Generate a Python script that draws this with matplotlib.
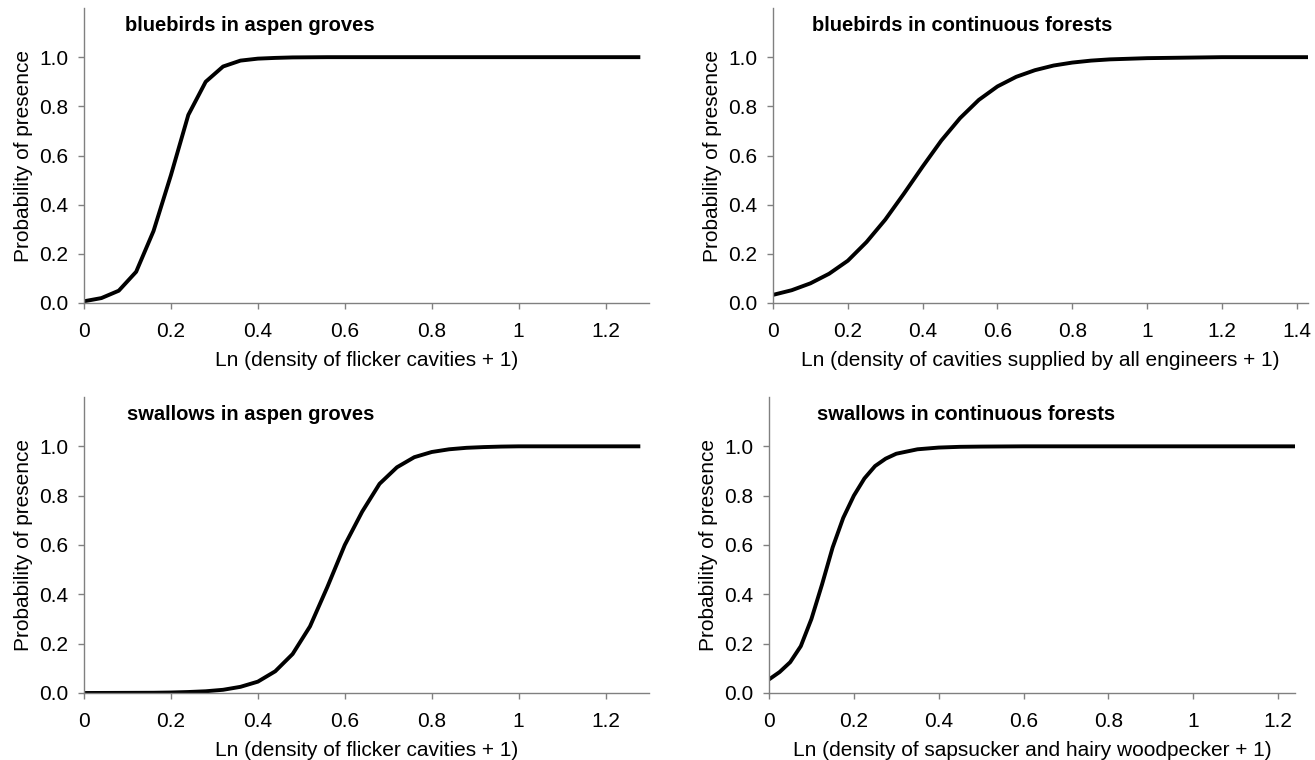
#!/usr/bin/env python3
import matplotlib
matplotlib.use('Agg')
import matplotlib.pyplot as plt

plt.rcParams['font.family'] = ['Liberation Sans', 'DejaVu Sans']

# bluebirds in aspen groves (flicker cavities)
blue_aspen_x = [0.0, 0.04, 0.08, 0.12, 0.16, 0.20, 0.24, 0.28, 0.32, 0.36,
                0.40, 0.44, 0.48, 0.52, 0.56, 1.28]
blue_aspen_y = [0.007, 0.02, 0.05, 0.127, 0.293, 0.52, 0.765, 0.90, 0.962, 0.986,
                0.994, 0.997, 0.999, 0.9995, 1.0, 1.0]

# bluebirds in continuous forests (all engineers)
blue_forest_x = [0.0, 0.05, 0.10, 0.15, 0.20, 0.25, 0.30, 0.35, 0.40, 0.45,
                 0.50, 0.55, 0.60, 0.65, 0.70, 0.75, 0.80, 0.85, 0.90, 1.00,
                 1.10, 1.20, 1.43]
blue_forest_y = [0.033, 0.052, 0.08, 0.119, 0.172, 0.248, 0.339, 0.445, 0.555, 0.661,
                 0.752, 0.826, 0.881, 0.92, 0.947, 0.966, 0.978, 0.986, 0.991, 0.996,
                 0.998, 1.0, 1.0]

# swallows in aspen groves (flicker cavities)
swal_aspen_x = [0.0, 0.16, 0.20, 0.24, 0.28, 0.32, 0.36, 0.40, 0.44, 0.48,
                0.52, 0.56, 0.60, 0.64, 0.68, 0.72, 0.76, 0.80, 0.84, 0.88,
                0.92, 0.96, 1.00, 1.28]
swal_aspen_y = [0.0, 0.001, 0.002, 0.004, 0.007, 0.013, 0.025, 0.046, 0.088, 0.158,
                0.27, 0.43, 0.60, 0.735, 0.848, 0.915, 0.956, 0.977, 0.988, 0.994,
                0.997, 0.999, 1.0, 1.0]

# swallows in continuous forests (sapsucker and hairy woodpecker)
swal_forest_x = [0.0, 0.025, 0.05, 0.075, 0.10, 0.125, 0.15, 0.175, 0.20, 0.225,
                 0.25, 0.275, 0.30, 0.35, 0.40, 0.45, 0.50, 0.60, 1.24]
swal_forest_y = [0.055, 0.085, 0.125, 0.19, 0.30, 0.44, 0.59, 0.71, 0.80, 0.87,
                 0.92, 0.95, 0.97, 0.988, 0.995, 0.998, 0.999, 1.0, 1.0]

titles = ['bluebirds in aspen groves', 'bluebirds in continuous forests',
          'swallows in aspen groves', 'swallows in continuous forests']
xlabels = ['Ln (density of flicker cavities + 1)',
           'Ln (density of cavities supplied by all engineers + 1)',
           'Ln (density of flicker cavities + 1)',
           'Ln (density of sapsucker and hairy woodpecker + 1)']
x_max = [1.30, 1.43, 1.30, 1.24]
x_ticks = [[0, 0.2, 0.4, 0.6, 0.8, 1, 1.2],
           [0, 0.2, 0.4, 0.6, 0.8, 1, 1.2, 1.4],
           [0, 0.2, 0.4, 0.6, 0.8, 1, 1.2],
           [0, 0.2, 0.4, 0.6, 0.8, 1, 1.2]]
y_ticks = [0.0, 0.2, 0.4, 0.6, 0.8, 1.0]


def tick_text(v):
    if v == 0:
        return '0'
    if v == 1:
        return '1'
    return f'{v:.1f}'


def draw_panel(ax, xs, ys, title, xlabel, xmax, xt, title_x):
    ax.plot(xs, ys, color='black', lw=2.8, solid_capstyle='butt')
    ax.set_xlim(0, xmax)
    ax.set_ylim(0, 1.2)
    ax.set_xticks(xt)
    ax.set_xticklabels([tick_text(v) for v in xt])
    ax.set_yticks(y_ticks)
    ax.set_yticklabels([f'{v:.1f}' for v in y_ticks])
    for s in ['top', 'right']:
        ax.spines[s].set_visible(False)
    for s in ['left', 'bottom']:
        ax.spines[s].set_color('#808080')
        ax.spines[s].set_linewidth(1.0)
    ax.tick_params(direction='out', length=4.5, width=1.0, color='#808080',
                   labelsize=15)
    ax.tick_params(axis='x', pad=9.5)
    ax.tick_params(axis='y', pad=7)
    ax.set_xlabel(xlabel, fontsize=15, labelpad=7)
    ax.set_ylabel('Probability of presence', fontsize=15, labelpad=4)
    ax.text(title_x, 0.94, title, transform=ax.transAxes, fontsize=14.5,
            fontweight='bold', va='center', ha='left')


def main():
    fig = plt.figure(figsize=(13.15, 7.6), dpi=100)
    W, H = 1315.0, 760.0
    # axes boxes in pixels: left, bottom-from-top, right, top-from-top
    boxes = [(84, 303, 649, 8), (773, 303, 1308, 8),
             (84, 693, 649, 397), (769, 693, 1295, 397)]
    data = [(blue_aspen_x, blue_aspen_y), (blue_forest_x, blue_forest_y),
            (swal_aspen_x, swal_aspen_y), (swal_forest_x, swal_forest_y)]
    title_pos = [0.073, 0.073, 0.076, 0.091]
    for i in range(4):
        l, b, r, t = boxes[i]
        ax = fig.add_axes([l / W, 1 - b / H, (r - l) / W, (b - t) / H])
        draw_panel(ax, data[i][0], data[i][1], titles[i], xlabels[i],
                   x_max[i], x_ticks[i], title_pos[i])
    fig.savefig('out.png', dpi=100)
    plt.close(fig)


if __name__ == '__main__':
    main()
